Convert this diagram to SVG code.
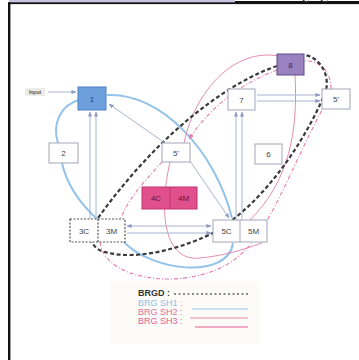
<svg xmlns="http://www.w3.org/2000/svg" width="359" height="360" viewBox="0 0 359 360">
<style>
.box{fill:#fff;stroke:#a3a6b8;stroke-width:1}
.lbl{font-family:"Liberation Sans",Arial,sans-serif;font-size:8px;fill:#444;text-anchor:middle}
.conn{fill:none;stroke:#a9b4d2;stroke-width:1}
.sh1{fill:none;stroke:#93c3ea;stroke-width:2}
.sh2{fill:none;stroke:#e97aa9;stroke-width:1.1;stroke-dasharray:4 2 1 2}
.sh3{fill:none;stroke:#e68cb1;stroke-width:1}
.brgd{fill:none;stroke:#3a3a3a;stroke-width:2.2;stroke-dasharray:4 2.5}
.leg{font-family:"Liberation Sans",Arial,sans-serif;font-size:9px}
</style>
<defs>
<marker id="ar" viewBox="0 0 6 6" refX="5.5" refY="3" markerWidth="5" markerHeight="5" orient="auto-start-reverse"><path d="M0,0.5 L6,3 L0,5.5 z" fill="#8d9ac0"/></marker>
<marker id="arp" viewBox="0 0 6 6" refX="5.5" refY="3" markerWidth="5" markerHeight="5" orient="auto"><path d="M0,0.5 L6,3 L0,5.5 z" fill="#e97aa9"/></marker>
</defs>
<rect width="359" height="360" fill="#fff"/>
<!-- frame -->
<rect x="9" y="0" width="226" height="2.6" fill="#c9c2e0"/>
<rect x="8" y="2.3" width="351" height="1.8" fill="#111"/>
<rect x="235" y="1" width="124" height="3" fill="#111"/>
<rect x="8" y="2.3" width="2.4" height="358" fill="#111"/>
<path d="M303,0 Q306,3 309,1 M321,0 Q324,3 328,1" stroke="#333" stroke-width="1.2" fill="none"/>
<rect x="110" y="282" width="150" height="62" fill="#fcfbf8"/>
<g id="connectors">
<path class="sh1" d="M79 100 C60 105,52 125,58 143"/>
<path class="sh1" d="M62 163 C68 190,85 208,97 219"/>
<path class="sh1" d="M107 95 C160 92,215 150,232 218"/>
<path class="sh1" d="M122 240 C150 272,228 280,233 243"/>
<path class="sh3" d="M184 143 C195 90,235 48,278 56"/>
<path class="sh3" d="M295 75 C298 130,290 180,250 220"/>
<path class="sh3" d="M170 162 C158 215,165 262,200 258 C230 255,250 247,262 243"/>
<path class="sh2" d="M277 70 C250 80,215 100,189 139" marker-end="url(#arp)"/>
<path class="sh2" d="M162 162 C148 178,130 195,121 218"/>
<path class="sh2" d="M100 242 C105 285,200 292,240 255 C270 230,290 170,322 110"/>
<path class="sh2" d="M331 89 C331 70,318 60,305 61"/>
<path class="brgd" d="M277 66 C235 80,165 125,98 218 C88 232,88 248,105 252 C140 262,190 245,215 232 C260 205,300 150,323 98 C333 80,322 58,305 55"/>
<path class="conn" d="M48 92 L76 92" marker-end="url(#ar)"/>
<path class="conn" d="M90 219 L90 112" marker-end="url(#ar)"/>
<path class="conn" d="M96 219 L96 112" marker-end="url(#ar)"/>
<path class="conn" d="M236 220 L236 112" marker-end="url(#ar)"/>
<path class="conn" d="M242 220 L242 112" marker-end="url(#ar)"/>
<path class="conn" d="M257 95 L320 95" marker-end="url(#ar)"/>
<path class="conn" d="M257 101 L320 101" marker-end="url(#ar)"/>
<path class="conn" d="M127 226 L211 226" marker-end="url(#ar)" marker-start="url(#ar)"/>
<path class="conn" d="M127 233 L211 233" marker-end="url(#ar)"/>
<path class="conn" d="M165 143 L109 104" marker-end="url(#ar)"/>
<path class="conn" d="M190 161 L229 218" marker-end="url(#ar)"/>
</g>
<g id="input"><rect x="25" y="88" width="20" height="8" fill="#eeece6"/><text x="35" y="94" class="lbl" style="font-size:5px;font-weight:bold;fill:#555">Input</text></g>
<g id="n1"><rect x="78" y="87" width="28" height="23" fill="#6d9fdc" stroke="#4d80c2"/><text x="92" y="101.5" class="lbl" style="fill:#2a3a60">1</text></g>
<g id="n2"><rect class="box" x="49" y="143" width="29" height="20"/><text x="63.5" y="156" class="lbl">2</text></g>
<g id="n8"><rect x="277" y="54" width="27" height="21" fill="#9a82c0" stroke="#5e4a8a"/><text x="290.5" y="67.5" class="lbl" style="fill:#3a2a5a">8</text></g>
<g id="n7"><rect class="box" x="228" y="89" width="27" height="21"/><text x="241.5" y="102.5" class="lbl">7</text></g>
<g id="n5b"><rect class="box" x="322" y="89" width="28" height="20"/><text x="336" y="102" class="lbl">5'</text></g>
<g id="n5a"><rect class="box" x="162" y="143" width="28" height="19"/><text x="176" y="155.5" class="lbl">5'</text></g>
<g id="n6"><rect class="box" x="255" y="144" width="27" height="20"/><text x="268.5" y="157" class="lbl">6</text></g>
<g id="n4"><rect x="142" y="187" width="55" height="22" fill="#e0508c" stroke="#c2336f"/><line x1="170" y1="187" x2="170" y2="209" stroke="#c2336f"/><text x="156" y="201" class="lbl" style="fill:#6a1236">4C</text><text x="183.5" y="201" class="lbl" style="fill:#6a1236">4M</text></g>
<g id="n3"><rect x="70" y="219" width="55" height="23" fill="#fff" stroke="#555" stroke-width="1.2" stroke-dasharray="2 1.5"/><line x1="98" y1="219" x2="98" y2="242" stroke="#555" stroke-width="1.2" stroke-dasharray="2 1.5"/><text x="84" y="233.5" class="lbl">3C</text><text x="111.5" y="233.5" class="lbl">3M</text></g>
<g id="n5c"><rect class="box" x="213" y="220" width="54" height="22"/><line x1="240" y1="220" x2="240" y2="242" stroke="#a3a6b8"/><text x="226.5" y="234" class="lbl">5C</text><text x="253.5" y="234" class="lbl">5M</text></g>
<g id="legend">
<text x="138" y="296" class="leg" style="fill:#333;font-weight:bold">BRGD :</text>
<line x1="174" y1="294" x2="250" y2="294" stroke="#666" stroke-width="1.5" stroke-dasharray="2 2.5"/>
<text x="138" y="306" class="leg" style="fill:#8cc0ea">BRG  SH1 :</text>
<line x1="192" y1="309" x2="248" y2="309" stroke="#93c3ea" stroke-width="1.2"/>
<text x="138" y="315" class="leg" style="fill:#e0709e">BRG  SH2 :</text>
<line x1="190" y1="318" x2="248" y2="318" stroke="#e97aa9" stroke-width="0.9"/>
<text x="138" y="324" class="leg" style="fill:#e35d96">BRG  SH3 :</text>
<line x1="195" y1="327" x2="248" y2="327" stroke="#e35d96" stroke-width="1.1"/>
</g>
</svg>
